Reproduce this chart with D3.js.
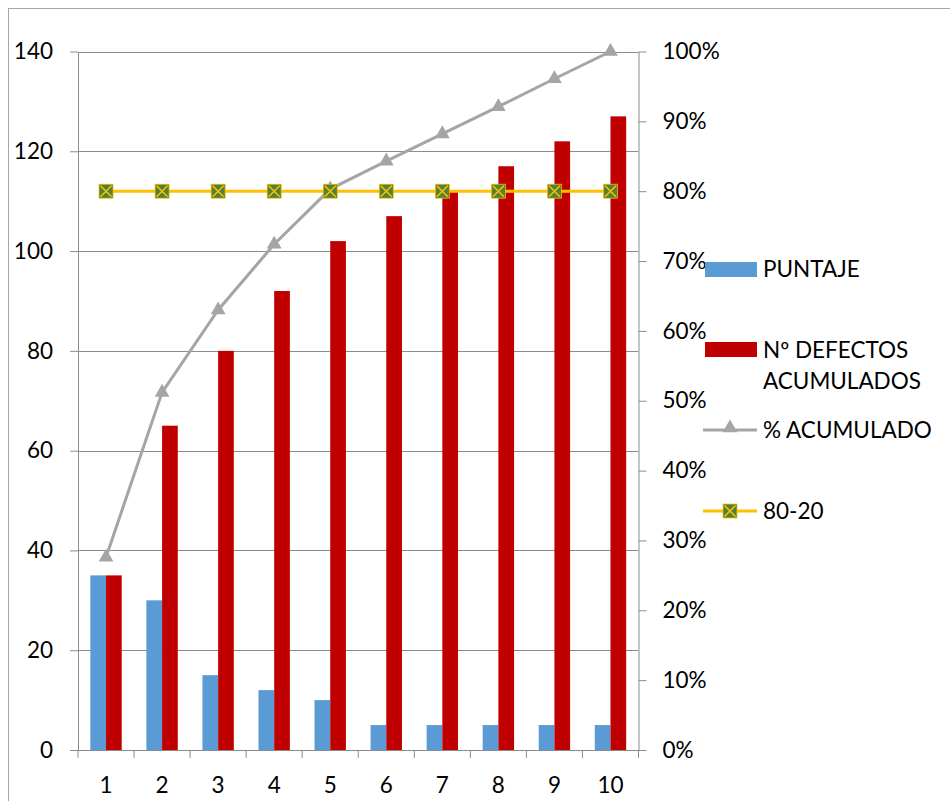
<!DOCTYPE html>
<html>
<head>
<meta charset="utf-8">
<script src="https://cdn.jsdelivr.net/npm/d3@7"></script>
<style>
  body { margin: 0; background: #fff; }
  svg { font-family: Lato, "Open Sans", sans-serif; }
</style>
</head>
<body>
<script>
// data
let categorias = ["1", "2", "3", "4", "5", "6", "7", "8", "9", "10"];
let puntaje = [35, 30, 15, 12, 10, 5, 5, 5, 5, 5];
let defectosAcum = [35, 65, 80, 92, 102, 107, 112, 117, 122, 127];
let pctAcum = [27.6, 51.2, 63.0, 72.4, 80.3, 84.3, 88.2, 92.1, 96.1, 100];
let linea8020 = [80, 80, 80, 80, 80, 80, 80, 80, 80, 80];
let leftTicks = [0, 20, 40, 60, 80, 100, 120, 140];
let rightTicks = [0, 10, 20, 30, 40, 50, 60, 70, 80, 90, 100];

let W = 950, H = 801;
let pLeft = 78, pRight = 638.5, pTop = 51.5, pBottom = 750;

let svg = d3.select("body").append("svg")
    .attr("width", W)
    .attr("height", H);

// chart border
svg.append("rect")
    .attr("x", 8.5).attr("y", 8.5)
    .attr("width", 1000).attr("height", 1000)
    .attr("fill", "none")
    .attr("stroke", "#a6a6a6");

let x = d3.scaleBand().domain(categorias).range([pLeft, pRight]);
let y = d3.scaleLinear().domain([0, 140]).range([pBottom, pTop]);
let y2 = d3.scaleLinear().domain([0, 100]).range([pBottom, pTop]);

// gridlines
svg.append("g")
    .selectAll("line")
    .data(leftTicks.slice(1))
    .enter().append("line")
    .attr("x1", pLeft).attr("x2", pRight)
    .attr("y1", d => Math.round(y(d)) + 0.5)
    .attr("y2", d => Math.round(y(d)) + 0.5)
    .attr("stroke", "#8c8c8c")
    .attr("stroke-width", 1);

function styleAxis(g) {
  g.selectAll("path, line").attr("stroke", "#8c8c8c");
  g.selectAll("text").attr("font-size", 22.5).attr("fill", "#000").attr("font-family", "Lato, sans-serif");
}

svg.append("g")
    .attr("transform", "translate(" + pLeft + ",0)")
    .call(d3.axisLeft(y).tickValues(leftTicks).tickSize(8).tickSizeOuter(0).tickPadding(17))
    .call(styleAxis);

svg.append("g")
    .attr("transform", "translate(" + pRight + ",0)")
    .call(d3.axisRight(y2).tickValues(rightTicks).tickFormat(d => d + "%").tickSize(8).tickSizeOuter(0).tickPadding(16))
    .call(styleAxis);

// x axis with ticks on band boundaries
let xAxis = svg.append("g")
    .attr("transform", "translate(0," + pBottom + ")")
    .call(d3.axisBottom(x).tickSize(0).tickPadding(27))
    .call(styleAxis);
xAxis.select(".domain").remove();
xAxis.append("line")
    .attr("x1", pLeft).attr("x2", pRight)
    .attr("y1", 0.5).attr("y2", 0.5)
    .attr("stroke", "#8c8c8c");
xAxis.selectAll(".bound")
    .data(categorias.concat(["end"]))
    .enter().append("line")
    .attr("class", "bound")
    .attr("x1", (d, i) => i < categorias.length ? x(d) : pRight)
    .attr("x2", (d, i) => i < categorias.length ? x(d) : pRight)
    .attr("y1", 0).attr("y2", 8)
    .attr("stroke", "#8c8c8c");

// bars
let barW = x.bandwidth() * 0.28;
let bars = svg.append("g");
bars.selectAll(".p")
    .data(puntaje)
    .enter().append("rect")
    .attr("x", (d, i) => x(categorias[i]) + x.bandwidth() / 2 - barW)
    .attr("y", d => y(d))
    .attr("width", barW)
    .attr("height", d => pBottom - y(d))
    .attr("fill", "#5b9bd5");
bars.selectAll(".d")
    .data(defectosAcum)
    .enter().append("rect")
    .attr("x", (d, i) => x(categorias[i]) + x.bandwidth() / 2)
    .attr("y", d => y(d))
    .attr("width", barW)
    .attr("height", d => pBottom - y(d))
    .attr("fill", "#c00000");

let cx = i => x(categorias[i]) + x.bandwidth() / 2;
let line = d3.line().x((d, i) => cx(i)).y(d => y2(d));

// % acumulado
svg.append("path")
    .datum(pctAcum)
    .attr("d", line)
    .attr("fill", "none")
    .attr("stroke", "#a5a5a5")
    .attr("stroke-width", 3);
let tri = d3.symbol().type(d3.symbolTriangle).size(95);
svg.append("g").selectAll("path")
    .data(pctAcum)
    .enter().append("path")
    .attr("d", tri)
    .attr("transform", (d, i) => "translate(" + cx(i) + "," + y2(d) + ")")
    .attr("fill", "#a5a5a5");

// 80-20
svg.append("path")
    .datum(linea8020)
    .attr("d", line)
    .attr("fill", "none")
    .attr("stroke", "#ffc000")
    .attr("stroke-width", 3);

function squareX(g, px, py) {
  let s = 7;
  g.append("rect")
      .attr("x", px - s).attr("y", py - s)
      .attr("width", 2 * s).attr("height", 2 * s)
      .attr("fill", "#548235")
      .attr("stroke", "#ffc000").attr("stroke-width", 0.75);
  g.append("path")
      .attr("d", "M" + (px - s + 1.5) + "," + (py - s + 1.5) + "L" + (px + s - 1.5) + "," + (py + s - 1.5) +
                 "M" + (px + s - 1.5) + "," + (py - s + 1.5) + "L" + (px - s + 1.5) + "," + (py + s - 1.5))
      .attr("stroke", "#ffc000").attr("stroke-width", 1.5);
}
let mk = svg.append("g");
linea8020.forEach((d, i) => squareX(mk, cx(i), y2(d)));

// legend
let lg = svg.append("g").attr("font-size", 22.5).attr("fill", "#000");
lg.append("rect").attr("x", 705).attr("y", 262).attr("width", 52).attr("height", 15).attr("fill", "#5b9bd5");
lg.append("text").attr("x", 763).attr("y", 277).text("PUNTAJE");
lg.append("rect").attr("x", 705).attr("y", 342).attr("width", 52).attr("height", 15).attr("fill", "#c00000");
lg.append("text").attr("x", 763).attr("y", 358).text("Nº DEFECTOS");
lg.append("text").attr("x", 763).attr("y", 389).text("ACUMULADOS");
lg.append("line").attr("x1", 703).attr("x2", 757).attr("y1", 430).attr("y2", 430)
    .attr("stroke", "#a5a5a5").attr("stroke-width", 3);
lg.append("path").attr("d", tri).attr("transform", "translate(730,428)").attr("fill", "#a5a5a5");
lg.append("text").attr("x", 763).attr("y", 438).text("% ACUMULADO");
lg.append("line").attr("x1", 703).attr("x2", 757).attr("y1", 511).attr("y2", 511)
    .attr("stroke", "#ffc000").attr("stroke-width", 3);
squareX(lg, 730, 511);
lg.append("text").attr("x", 763).attr("y", 519).text("80-20");
</script>
</body>
</html>
